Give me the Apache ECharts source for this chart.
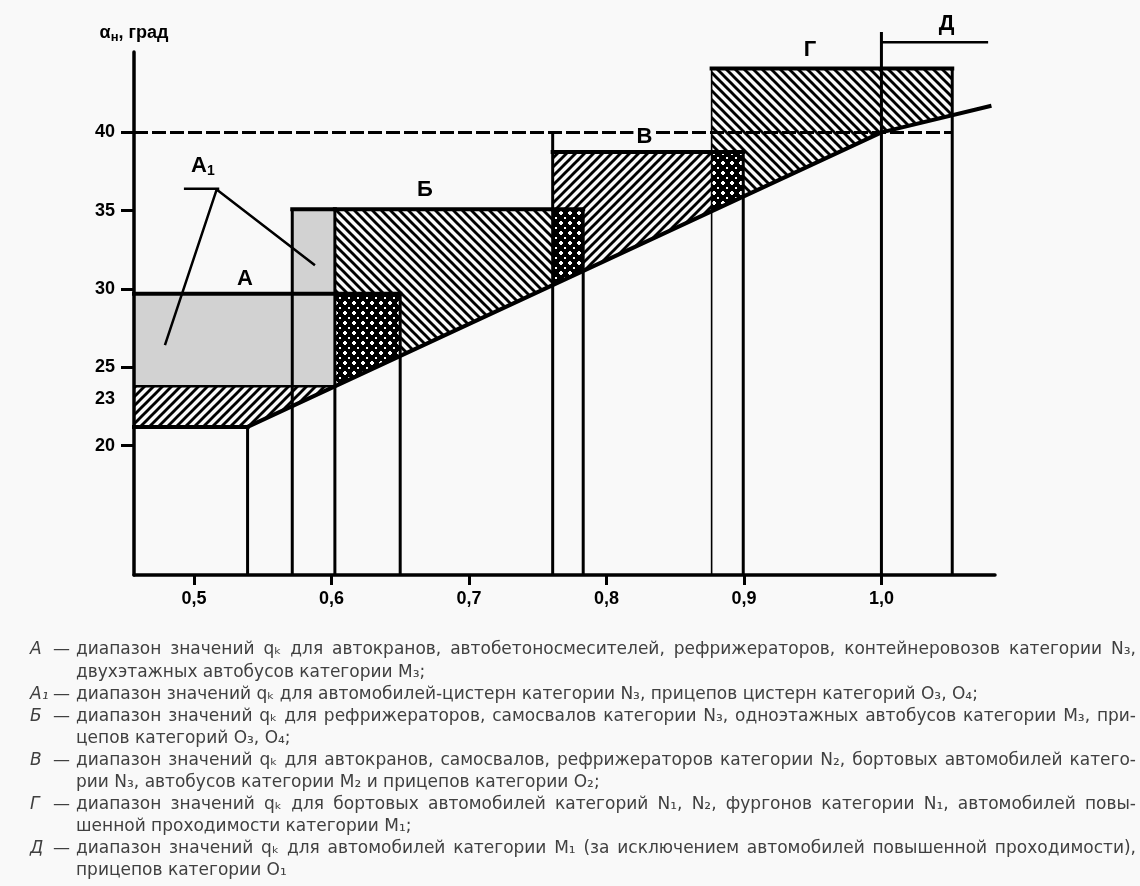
<!DOCTYPE html>
<html>
<head>
<meta charset="utf-8">
<script src="https://cdn.jsdelivr.net/npm/echarts@6/dist/echarts.min.js"></script>
<style>
  html, body { margin: 0; background: #f9f9f9; }
  #main { width: 1140px; height: 886px; }
</style>
</head>
<body>
<div id="main"></div>
<script>
  var bg = '#f9f9f9';

  // оси: q (горизонталь) и αн, град (вертикаль)
  var qMin = 0.4564, qMax = 1.0826;
  var alphaMin = 11.75, alphaMax = 45.13;
  var xTickValues = [0.5, 0.6, 0.7, 0.8, 0.9, 1.0];
  var yTickValues = [20, 25, 30, 35, 40];
  var yLabelValues = [20, 23, 25, 30, 35, 40];

  // зоны А, А1, Б, В, Г, Д: границы по q и верхняя граница по α
  var zoneQFrom = [0.4564, 0.5715, 0.6025, 0.7609, 0.8765, 1.0];
  var zoneQTo   = [0.65,   0.6025, 0.7831, 0.8995, 1.0515, 1.0776];
  var zoneTop   = [29.7,   35.1,   35.1,   38.75,  44.07,  45.75];

  // нижняя заштрихованная полоса
  var bandQ = [0.4564, 0.6025];
  var bandAlpha = [21.2, 23.8];

  // нижняя наклонная граница
  var lowerQ = [0.539, 1.0, 1.08];
  var lowerAlpha = [21.2, 40.0, 41.7];

  // штриховая линия 40
  var dashQ = [0.4564, 1.0515];
  var dashAlpha = 40;

  // вертикальные линии от оси
  var edgeQ   = [0.539, 0.5715, 0.6025, 0.65, 0.7609, 0.7831, 0.8995, 1.0, 1.0515];
  var edgeTop = [21.2,  35.1,   35.1,   29.7, 40.0,   35.1,   38.75,  46.4, 44.07];
  var thinEdgeQ = [0.8765];
  var thinEdgeTop = [44.07];

  // выноска А1
  var leaderQ = [0.4789, 0.5165, 0.588];
  var leaderAlpha = [26.42, 36.35, 31.52];
  var shelfQ = [0.4927, 0.5184];
  var shelfAlpha = 36.41;

  // подписи зон
  var labelMain  = ['А', 'А', 'Б', 'В', 'Г', 'Д'];
  var labelSub   = ['', '1', '', '', '', ''];
  var labelQ     = [0.537, 0.5065, 0.668, 0.8276, 0.948, 1.0474];
  var labelAlpha = [30.62, 37.84, 36.3, 39.68, 45.26, 46.9];

  // пояснения под рисунком
  var noteKeys = ['А', 'А₁', 'Б', 'В', 'Г', 'Д'];
  var noteText = [
    ['диапазон значений qₖ для автокранов, автобетоносмесителей, рефрижераторов, контейнеровозов категории N₃,',
     'двухэтажных автобусов категории M₃;'],
    ['диапазон значений qₖ для автомобилей-цистерн категории N₃, прицепов цистерн категорий O₃, O₄;'],
    ['диапазон значений qₖ для рефрижераторов, самосвалов категории N₃, одноэтажных автобусов категории M₃, при-',
     'цепов категорий O₃, O₄;'],
    ['диапазон значений qₖ для автокранов, самосвалов, рефрижераторов категории N₂, бортовых автомобилей катего-',
     'рии N₃, автобусов категории M₂ и прицепов категории O₂;'],
    ['диапазон значений qₖ для бортовых автомобилей категорий N₁, N₂, фургонов категории N₁, автомобилей повы-',
     'шенной проходимости категории M₁;'],
    ['диапазон значений qₖ для автомобилей категории M₁ (за исключением автомобилей повышенной проходимости),',
     'прицепов категории O₁']
  ];

  // --- заливки ---
  function stripes(dir) {
    var c = document.createElement('canvas');
    c.width = c.height = 9;
    var g = c.getContext('2d');
    g.fillStyle = bg;
    g.fillRect(0, 0, 9, 9);
    g.strokeStyle = '#000';
    g.lineWidth = 2.9;
    for (var k = -1; k <= 1; k++) {
      g.beginPath();
      if (dir > 0) { g.moveTo(k * 9 - 1, 10); g.lineTo(k * 9 + 10, -1); }
      else { g.moveTo(k * 9 - 1, -1); g.lineTo(k * 9 + 10, 10); }
      g.stroke();
    }
    return { image: c, repeat: 'repeat' };
  }
  function crosses() {
    var c = document.createElement('canvas');
    c.width = 9; c.height = 10;
    var g = c.getContext('2d');
    g.fillStyle = '#000';
    g.fillRect(0, 0, 9, 10);
    g.fillStyle = '#fff';
    g.fillRect(1, 2, 4, 2);
    g.fillRect(2, 1, 2, 4);
    g.fillRect(6, 7, 2, 2);
    return { image: c, repeat: 'repeat' };
  }

  function rectSeries(rects, fill, z) {
    return {
      type: 'custom', z: z, silent: true, data: rects,
      encode: { x: [0, 1], y: [2, 3] },
      renderItem: function (params, api) {
        var a = api.coord([api.value(0), api.value(3)]);
        var b = api.coord([api.value(1), api.value(2)]);
        return { type: 'rect', shape: { x: a[0], y: a[1], width: b[0] - a[0], height: b[1] - a[1] },
                 style: { fill: fill } };
      }
    };
  }
  function segSeries(segs, width, cap, z) {
    return {
      type: 'custom', z: z, silent: true, data: segs,
      encode: { x: [0, 2], y: [1, 3] },
      renderItem: function (params, api) {
        var a = api.coord([api.value(0), api.value(1)]);
        var b = api.coord([api.value(2), api.value(3)]);
        return { type: 'line', shape: { x1: a[0], y1: a[1], x2: b[0], y2: b[1] },
                 style: { stroke: '#000', lineWidth: width, lineCap: cap } };
      }
    };
  }

  var greyRects = [
    [zoneQFrom[0], zoneQFrom[2], bandAlpha[1], zoneTop[0]],
    [zoneQFrom[1], zoneQTo[1], bandAlpha[1], zoneTop[1]]
  ];
  var backRects = [2, 4].map(function (i) { return [zoneQFrom[i], zoneQTo[i], bandAlpha[0], zoneTop[i]]; });
  var fwdRects = [[zoneQFrom[3], zoneQTo[3], bandAlpha[0], zoneTop[3]],
                  [bandQ[0], bandQ[1], bandAlpha[0], bandAlpha[1]]];
  var crossRects = [[0, 2], [2, 3], [3, 4]].map(function (p) {
    return [zoneQFrom[p[1]], zoneQTo[p[0]], bandAlpha[0], Math.min(zoneTop[p[0]], zoneTop[p[1]])];
  });

  var topSegs = [0, 1, 2, 3, 4].map(function (i) { return [zoneQFrom[i], zoneTop[i], zoneQTo[i], zoneTop[i]]; });
  topSegs.push([bandQ[0], bandAlpha[0], lowerQ[0], bandAlpha[0]]);
  var midSegs = [[zoneQFrom[5], zoneTop[5], zoneQTo[5], zoneTop[5]],
                 [bandQ[0], bandAlpha[1], bandQ[1], bandAlpha[1]],
                 [shelfQ[0], shelfAlpha, shelfQ[1], shelfAlpha]];
  var edgeSegs = edgeQ.map(function (q, i) { return [q, alphaMin, q, edgeTop[i]]; });
  var thinSegs = thinEdgeQ.map(function (q, i) { return [q, alphaMin, q, thinEdgeTop[i]]; });

  var maskSeries = {
    type: 'custom', z: 4, silent: true, data: [[0]],
    renderItem: function (params, api) {
      var pts = [api.coord([qMin, bandAlpha[0]])];
      lowerQ.forEach(function (q, i) { pts.push(api.coord([q, lowerAlpha[i]])); });
      pts.push(api.coord([lowerQ[lowerQ.length - 1], alphaMin]));
      pts.push(api.coord([qMin, alphaMin]));
      return { type: 'polygon', shape: { points: pts }, style: { fill: bg } };
    }
  };

  var labelSeries = {
    type: 'custom', z: 7, silent: true,
    data: labelQ.map(function (q, i) { return [q, labelAlpha[i]]; }),
    renderItem: function (params, api) {
      var p = api.coord([api.value(0), api.value(1)]);
      var i = params.dataIndex;
      var s = labelSub[i];
      return {
        type: 'text', x: p[0], y: p[1],
        style: {
          text: '{m|' + labelMain[i] + '}' + (s ? '{s|' + s + '}' : ''),
          align: 'center', verticalAlign: 'middle',
          backgroundColor: bg, padding: [0, 3],
          rich: {
            m: { fontSize: 22, fontWeight: 'bold', fontFamily: 'Liberation Sans', fill: '#000' },
            s: { fontSize: 14, fontWeight: 'bold', fontFamily: 'Liberation Sans', fill: '#000', padding: [10, 0, 0, 0] }
          }
        }
      };
    }
  };

  // --- пояснения (по словам, с выравниванием по ширине) ---
  var noteFont = '17px "DejaVu Sans"';
  var noteColor = '#404040';
  var noteTop = 650, noteStep = 22.1, noteLeft = 76, noteRight = 1136;
  var measure = document.createElement('canvas').getContext('2d');
  measure.font = noteFont;
  function txt(s, x, y, font) {
    return { type: 'text', x: x, y: y, silent: true,
             style: { text: s, font: font || noteFont, fill: noteColor, verticalAlign: 'middle', textVerticalAlign: 'middle' } };
  }
  var notes = [];
  var row = 0;
  noteText.forEach(function (par, k) {
    var y0 = noteTop + row * noteStep;
    notes.push(txt(noteKeys[k], 30, y0, 'italic ' + noteFont));
    notes.push(txt('—', 53, y0));
    par.forEach(function (line, j) {
      var y = noteTop + row * noteStep;
      var words = line.split(/\s+/);
      var w = words.map(function (s) { return measure.measureText(s).width; });
      var sum = w.reduce(function (a, b) { return a + b; }, 0);
      var gap = j < par.length - 1 ? (noteRight - noteLeft - sum) / (words.length - 1) : measure.measureText(' ').width;
      var x = noteLeft;
      words.forEach(function (s, i) { notes.push(txt(s, x, y)); x += w[i] + gap; });
      row++;
    });
  });

  var tickFont = { fontSize: 18, fontWeight: 'bold', fontFamily: 'Liberation Sans', color: '#000' };

  var chart = echarts.init(document.getElementById('main'));
  chart.setOption({
    backgroundColor: bg,
    animation: false,
    grid: { left: 134, right: 145, top: 52, bottom: 311 },
    xAxis: {
      type: 'value', min: qMin, max: qMax, z: 8,
      splitLine: { show: false },
      axisLine: { lineStyle: { color: '#000', width: 3.5 } },
      axisTick: { customValues: xTickValues, length: 10, lineStyle: { color: '#000', width: 3 } },
      axisLabel: Object.assign({ customValues: xTickValues, margin: 15,
        formatter: function (v) { return v.toFixed(1).replace('.', ','); } }, tickFont)
    },
    yAxis: {
      type: 'value', min: alphaMin, max: alphaMax, z: 8,
      splitLine: { show: false },
      axisLine: { lineStyle: { color: '#000', width: 3.5 } },
      axisTick: { customValues: yTickValues, length: 13, lineStyle: { color: '#000', width: 3 } },
      axisLabel: Object.assign({ customValues: yLabelValues, margin: 19 }, tickFont),
      name: '{a|α}{b|н}{a|, град}',
      nameLocation: 'end',
      nameGap: 8,
      nameTextStyle: {
        rich: {
          a: { fontSize: 18, fontWeight: 'bold', fontFamily: 'Liberation Sans', color: '#000' },
          b: { fontSize: 13, fontWeight: 'bold', fontFamily: 'Liberation Sans', color: '#000', padding: [8, 0, 0, 0] }
        }
      }
    },
    graphic: { elements: notes },
    series: [
      rectSeries(greyRects, '#d2d2d2', 1),
      rectSeries(backRects, stripes(-1), 2),
      rectSeries(fwdRects, stripes(1), 2),
      rectSeries(crossRects, crosses(), 3),
      maskSeries,
      {
        type: 'line', z: 5, silent: true, symbol: 'none',
        data: [[dashQ[0], dashAlpha], [dashQ[1], dashAlpha]],
        lineStyle: { color: '#000', width: 3, type: [14, 4] }
      },
      segSeries(edgeSegs, 3, 'butt', 6),
      segSeries(thinSegs, 1.6, 'butt', 6),
      segSeries(midSegs, 2.5, 'butt', 6),
      segSeries(topSegs, 4, 'square', 6),
      {
        type: 'line', z: 6, silent: true, symbol: 'none',
        data: lowerQ.map(function (q, i) { return [q, lowerAlpha[i]]; }),
        lineStyle: { color: '#000', width: 4 }
      },
      {
        type: 'line', z: 6, silent: true, symbol: 'none',
        data: leaderQ.map(function (q, i) { return [q, leaderAlpha[i]]; }),
        lineStyle: { color: '#000', width: 2.5 }
      },
      labelSeries
    ]
  });
</script>
</body>
</html>
